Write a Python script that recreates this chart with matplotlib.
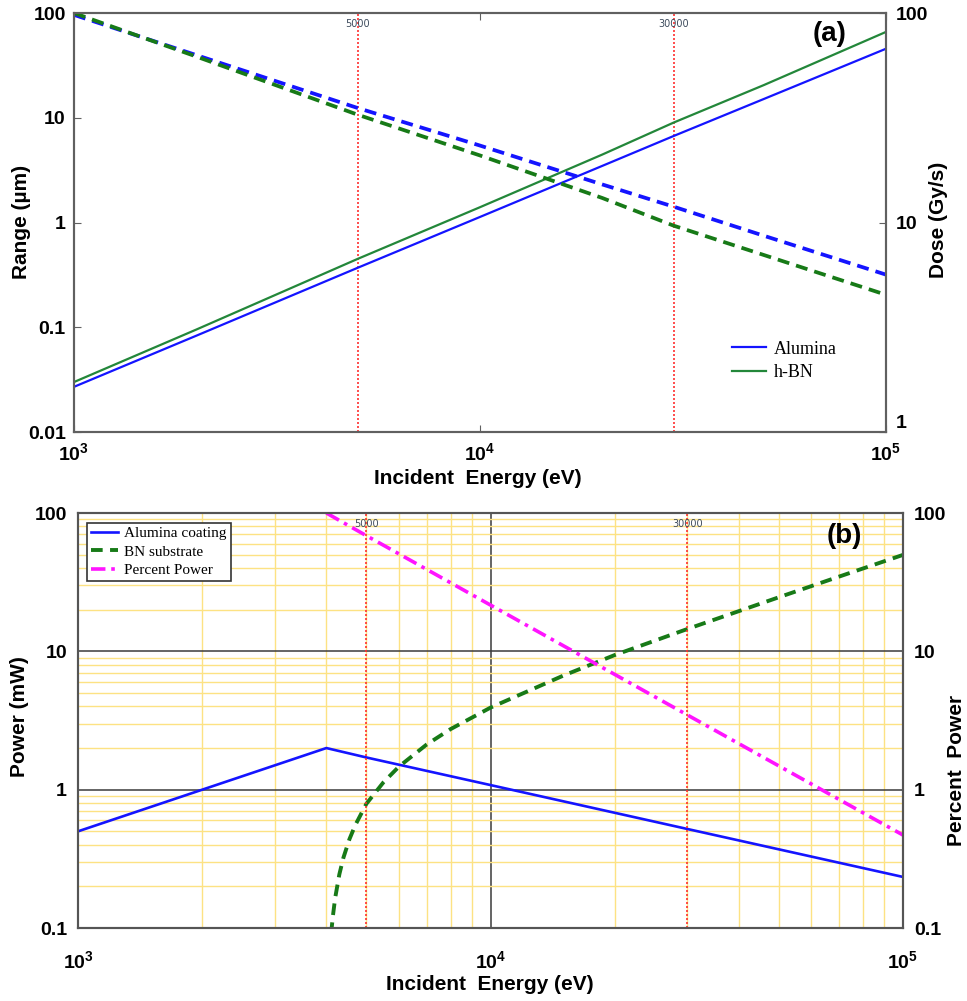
import matplotlib
matplotlib.use('Agg')
import matplotlib.pyplot as plt
from matplotlib.ticker import FixedLocator, FixedFormatter, NullLocator, LogLocator, NullFormatter
from matplotlib.transforms import blended_transform_factory

# ---------------- data ----------------
# Panel (a): range (left axis) and dose (right axis) vs incident energy
energy_a = [1000, 2000, 5000, 10000, 20000, 30000, 50000, 100000]
range_alumina = [0.027, 0.083, 0.37, 1.13, 3.47, 6.7, 15.1, 45.6]
range_hbn = [0.030, 0.095, 0.45, 1.40, 4.45, 9.0, 20.5, 66.0]
dose_alumina = [98, 63, 35.2, 23.3, 15.2, 11.9, 8.65, 5.64]
dose_hbn = [100, 62, 32.7, 20.9, 13.1, 9.66, 7.0, 4.52]

# Panel (b): power
energy_alumina_b = [1000, 2000, 4000, 5000, 10000, 30000, 100000]
power_alumina = [0.5, 1.0, 2.0, 1.71, 1.08, 0.52, 0.234]
energy_bn = [4080, 4120, 4150, 4200, 4300, 4400, 4550, 4700, 5000, 5500, 6000,
             7000, 8000, 10000, 15000, 20000, 30000, 50000, 70000, 100000]
power_bn = [0.066, 0.10, 0.123, 0.164, 0.244, 0.323, 0.439, 0.554, 0.79, 1.13, 1.47,
            2.12, 2.74, 3.92, 6.67, 9.4, 14.5, 24.6, 34.7, 49.8]
energy_pct = [4000, 5000, 10000, 30000, 100000]
percent_power = [100, 68.6, 21.6, 3.47, 0.47]

marker_energies = [5000, 30000]
marker_labels = ['5000', '30000']

x_ticks = [1e3, 1e4, 1e5]
x_ticklabels = [r'$\mathbf{10^{3}}$', r'$\mathbf{10^{4}}$', r'$\mathbf{10^{5}}$']
range_ticks = [0.01, 0.1, 1, 10, 100]
range_ticklabels = ['0.01', '0.1', '1', '10', '100']
dose_ticks = [1, 10, 100]
dose_ticklabels = ['1', '10', '100']
power_ticks = [0.1, 1, 10, 100]
power_ticklabels = ['0.1', '1', '10', '100']

# ---------------- style ----------------
plt.rcParams['font.family'] = ['Liberation Sans', 'DejaVu Sans']
plt.rcParams['font.weight'] = 'bold'
plt.rcParams['mathtext.fontset'] = 'custom'
plt.rcParams['mathtext.rm'] = 'Liberation Sans:bold'
plt.rcParams['mathtext.bf'] = 'Liberation Sans:bold'

BLUE = '#1414ff'
GREEN = '#23873a'
DGREEN = '#177a17'
MAGENTA = '#ff14ff'
RED = '#ff3030'
SPINE = '#606060'
TICKFS = 14
LABFS = 15

fig = plt.figure(figsize=(9.67, 10.01), dpi=100)

# ---------------- panel (a) ----------------
axa = fig.add_axes([0.0765, 0.5684, 0.8397, 0.4186])
axa.set_xscale('log')
axa.set_yscale('log')
axa.set_xlim(1e3, 1e5)
axa.set_ylim(0.01, 100)
l1, = axa.plot(energy_a, range_alumina, color=BLUE, lw=1.6, label='Alumina')
l2, = axa.plot(energy_a, range_hbn, color=GREEN, lw=1.6, label='h-BN')
for e, lab in zip(marker_energies, marker_labels):
    axa.axvline(e, color=RED, ls=(0, (1.2, 1.2)), lw=1.2, zorder=1)
    axa.text(e, 0.985, lab, transform=blended_transform_factory(axa.transData, axa.transAxes),
             ha='center', va='top', fontsize=7, color='#3c4a5c', family='DejaVu Sans',
             fontweight='normal')

axa2 = axa.twinx()
axa2.set_yscale('log')
axa2.set_ylim(1, 100)
axa2.plot(energy_a, dose_alumina, color=BLUE, lw=2.7, ls=(0, (3.2, 1.9)))
axa2.plot(energy_a, dose_hbn, color=DGREEN, lw=2.7, ls=(0, (3.2, 1.9)))

for ax in (axa, axa2):
    for s in ax.spines.values():
        s.set_color(SPINE)
        s.set_linewidth(1.5)

axa.xaxis.set_major_locator(FixedLocator(x_ticks))
axa.xaxis.set_major_formatter(FixedFormatter(x_ticklabels))
axa.xaxis.set_minor_locator(NullLocator())
axa.yaxis.set_major_locator(FixedLocator(range_ticks))
axa.yaxis.set_major_formatter(FixedFormatter(range_ticklabels))
axa.yaxis.set_minor_locator(NullLocator())
axa2.yaxis.set_major_locator(FixedLocator(dose_ticks))
axa2.yaxis.set_major_formatter(FixedFormatter(dose_ticklabels))
axa2.yaxis.set_minor_locator(NullLocator())
axa.tick_params(axis='x', which='major', direction='in', length=5, top=True, pad=7,
                labelsize=TICKFS, color=SPINE)
axa.tick_params(axis='y', which='major', direction='in', length=5, pad=6,
                labelsize=TICKFS, color=SPINE)
axa2.tick_params(axis='y', which='major', direction='in', length=5, pad=7,
                 labelsize=TICKFS, color=SPINE)
for lab in axa.get_yticklabels() + axa2.get_yticklabels():
    lab.set_fontweight('bold')
# lift the bottom right-axis label slightly so it clears the 10^5 label
axa2.get_yticklabels()[0].set_va('bottom')

axa.legend(handles=[l1, l2], loc='center left', bbox_to_anchor=(0.81, 0.17),
           frameon=False, borderpad=0, borderaxespad=0, handlelength=1.9,
           handletextpad=0.45, labelspacing=0.35,
           prop={'family': 'Liberation Serif', 'size': 13, 'weight': 'normal'})
axa.text(0.93, 0.95, '(a)', transform=axa.transAxes, ha='center', va='center',
         fontsize=20, fontweight='bold')

fig.text(22 / 967, 1 - 222 / 1001, 'Range (µm)', rotation=90, ha='center', va='center',
         fontsize=LABFS, fontweight='bold')
fig.text(938 / 967, 1 - 220 / 1001, 'Dose (Gy/s)', rotation=90, ha='center', va='center',
         fontsize=LABFS, fontweight='bold')
fig.text(478 / 967, 1 - 479 / 1001, 'Incident  Energy (eV)', ha='center', va='center',
         fontsize=LABFS, fontweight='bold')

# ---------------- panel (b) ----------------
axb = fig.add_axes([0.0807, 0.0729, 0.8531, 0.4146])
axb.set_xscale('log')
axb.set_yscale('log')
axb.set_xlim(1e3, 1e5)
axb.set_ylim(0.1, 100)
axb.set_axisbelow(True)
axb.xaxis.set_major_locator(FixedLocator(x_ticks))
axb.xaxis.set_major_formatter(FixedFormatter(x_ticklabels))
axb.xaxis.set_minor_locator(LogLocator(base=10, subs=[2, 3, 4, 5, 6, 7, 8, 9]))
axb.xaxis.set_minor_formatter(NullFormatter())
axb.yaxis.set_major_locator(FixedLocator(power_ticks))
axb.yaxis.set_major_formatter(FixedFormatter(power_ticklabels))
axb.yaxis.set_minor_locator(LogLocator(base=10, subs=[2, 3, 4, 5, 6, 7, 8, 9]))
axb.yaxis.set_minor_formatter(NullFormatter())
axb.grid(which='minor', color='#fde283', lw=1.0)
axb.grid(which='major', color='#3a3a3a', lw=1.1)

pb1, = axb.plot(energy_alumina_b, power_alumina, color=BLUE, lw=1.9, label='Alumina coating')
pb2, = axb.plot(energy_bn, power_bn, color=DGREEN, lw=2.8, ls=(0, (3.0, 1.9)),
                label='BN substrate')
pb3, = axb.plot(energy_pct, percent_power, color=MAGENTA, lw=2.6,
                ls=(0, (4.0, 1.6, 1.0, 1.6)), label='Percent Power')
for e, lab in zip(marker_energies, marker_labels):
    axb.axvline(e, color=RED, ls=(0, (1.2, 1.2)), lw=1.2, zorder=2)
    axb.text(e, 0.985, lab, transform=blended_transform_factory(axb.transData, axb.transAxes),
             ha='center', va='top', fontsize=7, color='#3c4a5c', family='DejaVu Sans',
             fontweight='normal')

axb2 = axb.twinx()
axb2.set_yscale('log')
axb2.set_ylim(0.1, 100)
axb2.yaxis.set_major_locator(FixedLocator(power_ticks))
axb2.yaxis.set_major_formatter(FixedFormatter(power_ticklabels))
axb2.yaxis.set_minor_locator(NullLocator())

for ax in (axb, axb2):
    for s in ax.spines.values():
        s.set_color('#555555')
        s.set_linewidth(1.5)
axb.tick_params(axis='x', which='both', length=0, pad=16, labelsize=TICKFS)
axb.tick_params(axis='y', which='both', length=0, pad=8, labelsize=TICKFS)
axb2.tick_params(axis='y', which='both', length=0, pad=8, labelsize=TICKFS)
for lab in axb.get_yticklabels() + axb2.get_yticklabels():
    lab.set_fontweight('bold')

legb = axb.legend(handles=[pb1, pb2, pb3], loc='upper left', bbox_to_anchor=(0.0109, 0.976),
                  borderaxespad=0, fancybox=False, framealpha=1, edgecolor='#333333',
                  handlelength=1.8, handletextpad=0.4, labelspacing=0.3, borderpad=0.25,
                  prop={'family': 'Liberation Serif', 'size': 11, 'weight': 'normal'})
legb.get_frame().set_linewidth(1.2)
axb.text(0.929, 0.945, '(b)', transform=axb.transAxes, ha='center', va='center',
         fontsize=20, fontweight='bold')

fig.text(20 / 967, 1 - 717 / 1001, 'Power (mW)', rotation=90, ha='center', va='center',
         fontsize=LABFS, fontweight='bold')
fig.text(957 / 967, 1 - 770 / 1001, 'Percent  Power', rotation=90, ha='center', va='center',
         fontsize=LABFS, fontweight='bold')
fig.text(490 / 967, 1 - 984 / 1001, 'Incident  Energy (eV)', ha='center', va='center',
         fontsize=LABFS, fontweight='bold')

fig.savefig('out.png', dpi=100)
